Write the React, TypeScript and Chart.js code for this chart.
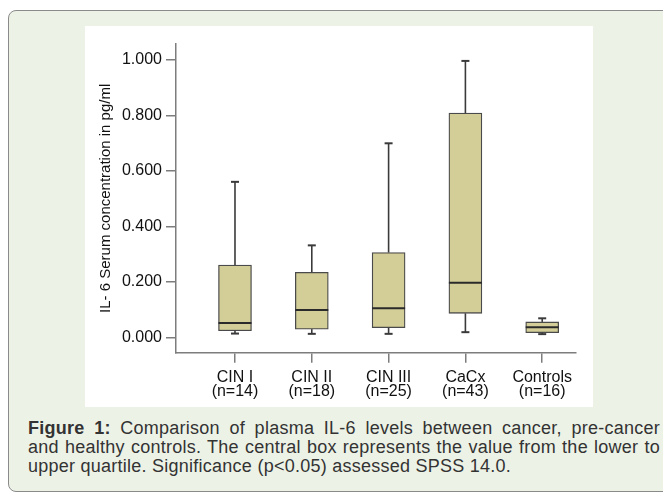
import React, { useEffect, useRef } from "react";
import { Chart, registerables } from "chart.js";

Chart.register(...registerables);

const GROUPS = ["CIN I", "CIN II", "CIN III", "CaCx", "Controls"];
const COUNTS = [14, 18, 25, 43, 16];
const WHISKER_LOW = [0.014, 0.013, 0.013, 0.019, 0.012];
const Q1 = [0.024, 0.03, 0.035, 0.087, 0.017];
const MEDIAN = [0.052, 0.099, 0.105, 0.197, 0.037];
const Q3 = [0.261, 0.235, 0.306, 0.809, 0.056];
const WHISKER_HIGH = [0.561, 0.332, 0.7, 0.997, 0.069];
const Y_TICKS = [0, 0.2, 0.4, 0.6, 0.8, 1.0];
const Y_TITLE = "IL- 6 Serum concentration in pg/ml";
const CAPTION_BOLD = "Figure 1:";
const CAPTION_LINES = [
  " Comparison of plasma IL-6 levels between cancer, pre-cancer",
  "and healthy controls. The central box represents the value from the lower to",
  "upper quartile. Significance (p<0.05) assessed SPSS 14.0.",
];

const FONT = "'Liberation Sans', Arial, Helvetica, sans-serif";

const whiskerPlugin = {
  id: "whiskers",
  afterDatasetsDraw(chart: any) {
    const { ctx, scales } = chart;
    const x = scales.x;
    const y = scales.y;
    const meta = chart.getDatasetMeta(0);
    ctx.save();
    const seg = (x1: number, y1: number, x2: number, y2: number) => {
      ctx.beginPath();
      ctx.moveTo(x1, y1);
      ctx.lineTo(x2, y2);
      ctx.stroke();
    };
    GROUPS.forEach((_, i) => {
      const el = meta.data[i];
      const w = el ? el.width : 33;
      const cx = x.getPixelForValue(i);
      const yHi = y.getPixelForValue(WHISKER_HIGH[i]);
      const yLo = y.getPixelForValue(WHISKER_LOW[i]);
      const yQ1 = y.getPixelForValue(Q1[i]);
      const yQ3 = y.getPixelForValue(Q3[i]);
      const yMed = y.getPixelForValue(MEDIAN[i]);
      ctx.strokeStyle = "#3a3a3a";
      ctx.lineWidth = 1.6;
      seg(cx, yQ3, cx, yHi);
      seg(cx, yLo, cx, yQ1);
      ctx.lineWidth = 2;
      seg(cx - 4, yHi, cx + 4, yHi);
      seg(cx - 4, yLo, cx + 4, yLo);
      ctx.strokeStyle = "#2a2a2a";
      ctx.lineWidth = 2;
      seg(cx - w / 2, yMed, cx + w / 2, yMed);
    });
    ctx.restore();
  },
};

function BoxChart() {
  const ref = useRef<HTMLCanvasElement | null>(null);
  useEffect(() => {
    if (!ref.current) return;
    const axisColor = "#7d7d7d";
    const chart = new Chart(ref.current, {
      type: "bar",
      data: {
        datasets: [
          {
            data: GROUPS.map((_, i) => ({ x: i, y: [Q1[i], Q3[i]] })) as any,
            backgroundColor: "#d3ce98",
            borderColor: "#4a4a4a",
            borderWidth: 1.3,
            borderSkipped: false,
            barThickness: 33,
          },
        ],
      },
      options: {
        animation: false,
        responsive: false,
        devicePixelRatio: 1,
        layout: { padding: { top: 18, right: 17, left: 0, bottom: 0 } },
        plugins: { legend: { display: false }, tooltip: { enabled: false } },
        scales: {
          x: {
            type: "linear",
            offset: false,
            min: -0.768,
            max: 4.44,
            afterBuildTicks: (s: any) => {
              s.ticks = GROUPS.map((_, i) => ({ value: i }));
            },
            afterFit: (s: any) => {
              s.height = 54.3;
              s.paddingLeft = 0;
              s.paddingRight = 0;
            },
            ticks: {
              autoSkip: false,
              maxRotation: 0,
              padding: 8,
              color: "#111111",
              font: { family: FONT, size: 16, lineHeight: 0.88 },
              callback: (_v: any, idx: number) => [GROUPS[idx], `(n=${COUNTS[idx]})`],
            },
            grid: {
              display: true,
              offset: false,
              drawOnChartArea: false,
              drawTicks: true,
              tickLength: 10,
              color: axisColor,
              lineWidth: 1.5,
            },
            border: { display: true, color: axisColor, width: 1.5 },
          },
          y: {
            type: "linear",
            min: -0.055,
            max: 1.058,
            afterBuildTicks: (s: any) => {
              s.ticks = Y_TICKS.map((v) => ({ value: v }));
            },
            afterFit: (s: any) => {
              s.width = 91;
            },
            ticks: {
              padding: 4,
              color: "#111111",
              font: { family: FONT, size: 16 },
              callback: (v: any) => Number(v).toFixed(3),
            },
            grid: {
              display: true,
              drawOnChartArea: false,
              drawTicks: true,
              tickLength: 10,
              color: axisColor,
              lineWidth: 1.5,
            },
            border: { display: true, color: axisColor, width: 1.5 },
            title: {
              display: true,
              text: Y_TITLE,
              color: "#111111",
              font: { family: FONT, size: 15 },
              padding: { top: 12, bottom: 0 },
            },
          },
        },
      },
      plugins: [whiskerPlugin],
    });
    return () => chart.destroy();
  }, []);
  return <canvas ref={ref} width={508} height={381} style={{ display: "block" }} />;
}

export default function App() {
  return (
    <div
      style={{
        position: "absolute",
        left: 0,
        top: 0,
        width: 663,
        height: 494,
        overflow: "hidden",
        background: "#ffffff",
      }}
    >
      <div
        style={{
          position: "absolute",
          left: 8,
          top: 10,
          width: 700,
          height: 482,
          background: "#edf2e7",
          border: "1.5px solid #8a8a8a",
          borderRadius: 8,
          boxSizing: "border-box",
        }}
      />
      <div
        style={{
          position: "absolute",
          left: 85,
          top: 26,
          width: 508,
          height: 381,
          background: "#ffffff",
        }}
      >
        <BoxChart />
      </div>
      <div
        style={{
          position: "absolute",
          left: 28,
          top: 419,
          width: 632,
          fontFamily: FONT,
          fontSize: 18,
          letterSpacing: "0.25px",
          lineHeight: "19px",
          color: "#333333",
        }}
      >
        <div style={{ textAlign: "justify", textAlignLast: "justify" }}>
          <b>{CAPTION_BOLD}</b>
          {CAPTION_LINES[0]}
        </div>
        <div style={{ textAlign: "justify", textAlignLast: "justify" }}>{CAPTION_LINES[1]}</div>
        <div>{CAPTION_LINES[2]}</div>
      </div>
    </div>
  );
}
